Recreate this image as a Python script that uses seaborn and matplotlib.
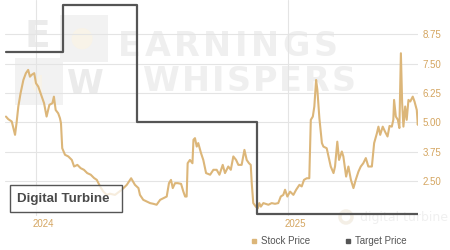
"""
Stock price vs. analyst target price, Digital Turbine.
Recreates the small Earnings Whispers style chart as out.png (450x250).
"""

import matplotlib
matplotlib.use("Agg")
import matplotlib.pyplot as plt
from matplotlib.lines import Line2D
from matplotlib.patches import Rectangle
import pandas as pd
import seaborn as sns

# ── data ──────────────────────────────────────────────────────────────────────
# time in decimal years
stock_t = [
    2023.881, 2023.890, 2023.904, 2023.917, 2023.923, 2023.930, 2023.939, 2023.950,
    2023.960, 2023.969, 2023.976, 2023.983, 2023.993, 2024.000, 2024.009, 2024.023,
    2024.032, 2024.042, 2024.053, 2024.065, 2024.071, 2024.078, 2024.088, 2024.095,
    2024.099, 2024.104, 2024.115, 2024.128, 2024.142, 2024.151, 2024.164, 2024.177,
    2024.190, 2024.203, 2024.217, 2024.230, 2024.241, 2024.254, 2024.267, 2024.280,
    2024.293, 2024.313, 2024.340, 2024.360, 2024.377, 2024.392, 2024.406, 2024.412,
    2024.425, 2024.439, 2024.452, 2024.465, 2024.478, 2024.492, 2024.505, 2024.518,
    2024.527, 2024.535, 2024.542, 2024.551, 2024.562, 2024.575, 2024.584, 2024.591,
    2024.597, 2024.601, 2024.610, 2024.620, 2024.624, 2024.630, 2024.637, 2024.643,
    2024.654, 2024.663, 2024.674, 2024.690, 2024.703, 2024.716, 2024.727, 2024.740,
    2024.749, 2024.762, 2024.772, 2024.782, 2024.793, 2024.802, 2024.815, 2024.826,
    2024.835, 2024.844, 2024.851, 2024.855, 2024.861, 2024.871, 2024.879, 2024.885,
    2024.891, 2024.901, 2024.921, 2024.934, 2024.947, 2024.960, 2024.970, 2024.980,
    2024.987, 2024.996, 2025.007, 2025.020, 2025.031, 2025.044, 2025.053, 2025.062,
    2025.073, 2025.083, 2025.089, 2025.097, 2025.103, 2025.110, 2025.115, 2025.123,
    2025.133, 2025.139, 2025.152, 2025.159, 2025.168, 2025.179, 2025.185, 2025.194,
    2025.201, 2025.212, 2025.218, 2025.229, 2025.238, 2025.248, 2025.258, 2025.267,
    2025.278, 2025.287, 2025.297, 2025.307, 2025.317, 2025.331, 2025.340, 2025.351,
    2025.357, 2025.364, 2025.374, 2025.383, 2025.393, 2025.401, 2025.410, 2025.416,
    2025.419, 2025.426, 2025.434, 2025.440, 2025.446, 2025.451, 2025.456, 2025.463,
    2025.469, 2025.476, 2025.483, 2025.493, 2025.500, 2025.509, 2025.513, 2025.518,
    2025.522,
]
stock_price = [
    5.24, 5.13, 5.03, 4.46, 4.97, 5.67, 6.24, 6.80,
    7.09, 7.23, 6.94, 7.02, 7.09, 6.66, 6.52, 6.09,
    5.81, 5.24, 5.74, 5.81, 6.09, 5.52, 5.38, 5.17,
    4.96, 3.89, 3.61, 3.54, 3.39, 3.11, 3.18, 3.04,
    2.97, 2.83, 2.76, 2.62, 2.54, 2.26, 2.04, 1.90,
    1.95, 1.90, 2.12, 2.33, 2.61, 2.33, 2.19, 1.90,
    1.69, 1.62, 1.55, 1.52, 1.48, 1.69, 1.76, 1.83,
    2.40, 2.54, 2.19, 2.40, 2.40, 2.37, 2.04, 1.83,
    1.83, 3.25, 3.39, 3.25, 4.25, 4.32, 3.96, 4.11,
    3.68, 3.39, 2.83, 2.76, 2.97, 2.97, 2.76, 3.18,
    2.83, 3.11, 2.97, 3.54, 3.39, 3.18, 3.18, 3.82,
    3.39, 3.25, 3.18, 2.40, 1.55, 1.40, 1.33, 1.55,
    1.40, 1.55, 1.48, 1.55, 1.52, 1.55, 1.83, 1.90,
    2.12, 1.83, 2.04, 1.90, 2.12, 2.33, 2.26, 2.54,
    2.61, 2.61, 5.10, 5.24, 5.67, 6.80, 6.38, 5.17,
    4.11, 3.96, 3.89, 3.54, 3.11, 2.83, 3.11, 4.17,
    3.39, 3.75, 3.54, 2.68, 3.11, 2.54, 2.19, 2.54,
    2.90, 3.11, 3.25, 3.47, 3.11, 3.11, 4.11, 4.53,
    4.81, 4.46, 4.81, 4.60, 4.39, 4.84, 4.81, 5.10,
    5.95, 5.24, 5.10, 4.75, 7.94, 5.81, 4.81, 5.67,
    5.10, 5.95, 5.88, 6.09, 5.88, 5.52, 4.89, 5.38,
    5.17,
]

target_t = [2023.881, 2024.107, 2024.400, 2024.876, 2025.514]
target_price = [8.00, 10.00, 5.00, 1.10, 1.10]

y_ticks = [2.50, 3.75, 5.00, 6.25, 7.50, 8.75]
year_ticks = [2024, 2025]
company = "Digital Turbine"

# ── style ─────────────────────────────────────────────────────────────────────
sns.set_theme(style="white")
plt.rcParams["font.family"] = ["Liberation Sans", "DejaVu Sans"]

STOCK_C = "#dcb679"
LABEL_C = "#d4a560"
TARGET_C = "#555555"
GRID_C = "#e4e4e4"
WM_C = "#efefef"

fig = plt.figure(figsize=(4.5, 2.5), dpi=100)
renderer = fig.canvas.get_renderer()


def tracked_text(axp, x0, yc, word, tracking, **kw):
    """Write a word letter by letter with extra spacing (pixel axes)."""
    x = x0
    for ch in word:
        t = axp.text(x, yc, ch, ha="left", va="center", **kw)
        bb = t.get_window_extent(renderer=renderer)
        x += bb.width + tracking


# background layer in pixel coords for the watermark
bg = fig.add_axes([0, 0, 1, 1], zorder=0)
bg.set_xlim(0, 450)
bg.set_ylim(250, 0)
bg.axis("off")

bg.add_patch(Rectangle((15, 15), 93, 90, fc="#f2f2f2", ec="none"))
bg.add_patch(Rectangle((15, 15), 45, 43, fc="white", ec="none"))
bg.add_patch(Rectangle((63, 62), 45, 43, fc="white", ec="none"))
bg.text(37.5, 37, "E", fontsize=27, fontweight="bold", color="#ebebeb",
        ha="center", va="center", family="DejaVu Sans")
bg.text(85.5, 84, "W", fontsize=24, fontweight="bold", color="#ebebeb",
        ha="center", va="center", family="DejaVu Sans")
bg.text(82, 38, "\u25cf", fontsize=20, color="#f8f3e8", ha="center", va="center",
        family="DejaVu Sans")
bg.text(37, 84, "\u25d6", fontsize=18, color="#f8f3e8", ha="center", va="center",
        family="DejaVu Sans")

wm_kw = dict(fontsize=24, fontweight="bold", color=WM_C, family="DejaVu Sans")
tracked_text(bg, 118, 46.5, "EARNINGS", 3.6, **wm_kw)
tracked_text(bg, 143, 81.5, "WHISPERS", 2.0, **wm_kw)

bg.add_patch(plt.Circle((346, 217), 6, fill=False, ec="#f4efe6", lw=2.5))
bg.text(360, 217, "digital turbine", fontsize=9, color="#f0f0f0",
        ha="left", va="center", family="DejaVu Sans")

# ── main axes ─────────────────────────────────────────────────────────────────
ax = fig.add_axes([0.011, 0.136, 0.918, 0.863], zorder=1)
ax.set_facecolor("none")

df_stock = pd.DataFrame({"t": stock_t, "price": stock_price})
df_target = pd.DataFrame({"t": target_t, "price": target_price})

sns.lineplot(data=df_stock, x="t", y="price", ax=ax, color=STOCK_C,
             linewidth=1.5, zorder=3)
sns.lineplot(data=df_target, x="t", y="price", ax=ax, color=TARGET_C,
             linewidth=1.6, drawstyle="steps-post", zorder=4)

ax.set_xlim(2023.877, 2025.514)
ax.set_ylim(1.0, 10.2)

ax.yaxis.tick_right()
ax.set_yticks(y_ticks)
ax.set_yticklabels([f"{v:.2f}" for v in y_ticks])
ax.set_xticks([y + 0.028 for y in year_ticks])
ax.set_xticklabels([str(y) for y in year_ticks])
ax.tick_params(axis="both", length=0, labelsize=7, labelcolor=LABEL_C)
ax.tick_params(axis="y", pad=3)
ax.tick_params(axis="x", pad=2)
ax.set_xlabel("")
ax.set_ylabel("")

ax.grid(axis="y", color=GRID_C, linewidth=0.8, zorder=1)
for y in year_ticks:
    ax.axvline(y, color=GRID_C, linewidth=0.8, zorder=1)
for s in ax.spines.values():
    s.set_visible(False)

# ── overlay: company label box and legend ─────────────────────────────────────
fg = fig.add_axes([0, 0, 1, 1], zorder=5)
fg.set_xlim(0, 450)
fg.set_ylim(250, 0)
fg.axis("off")
fg.add_patch(Rectangle((10, 185), 112, 27, fc="white", alpha=0.75,
                       ec="none"))
fg.add_patch(Rectangle((10, 185), 112, 27, fill=False, ec="#555555", lw=1))
fg.text(17, 198.8, company, fontsize=9.6, fontweight="bold", color="#4a4a4a",
        ha="left", va="center")

handles = [
    Line2D([], [], marker="s", linestyle="none", color=STOCK_C, markersize=3.5,
           label="Stock Price"),
    Line2D([], [], marker="s", linestyle="none", color=TARGET_C, markersize=3.5,
           label="Target Price"),
]
fig.legend(handles=handles, loc="center", bbox_to_anchor=(0.731, 0.036),
           ncol=2, frameon=False, fontsize=7, handlelength=0.6,
           handletextpad=0.4, columnspacing=3.6, labelcolor="#555555")

fig.savefig("out.png", dpi=100)
plt.close(fig)
